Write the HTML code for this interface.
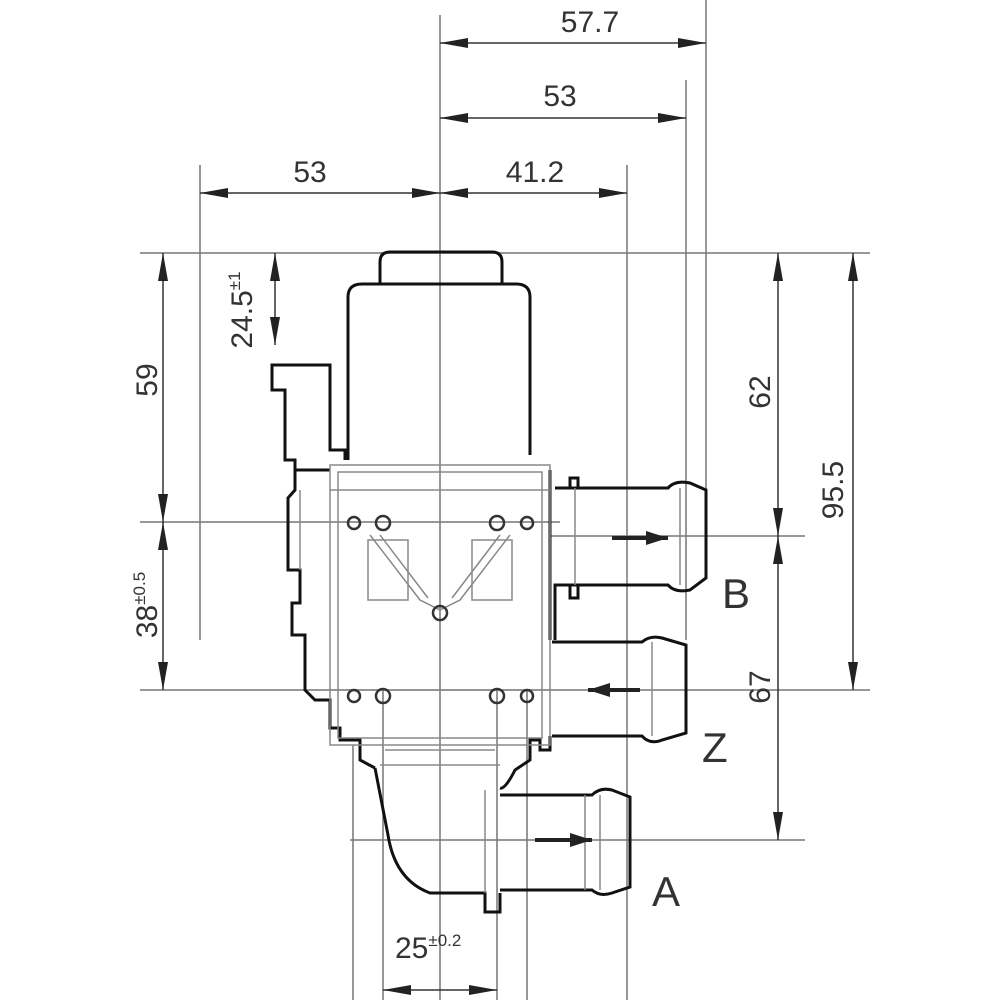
<!DOCTYPE html>
<html><head><style>body{margin:0;background:#fff}svg{display:block}text{font-family:"Liberation Sans",sans-serif;fill:#333}</style></head><body>
<svg width="1000" height="1000" viewBox="0 0 1000 1000" xmlns="http://www.w3.org/2000/svg">
<defs>
<marker id="a" viewBox="0 0 28 11" refX="28" refY="5.5" markerWidth="28" markerHeight="11" markerUnits="userSpaceOnUse" orient="auto-start-reverse"><path d="M0,0.5 L28,5.5 L0,10.5 Z" fill="#222"/></marker>
<marker id="f" viewBox="0 0 22 14" refX="22" refY="7" markerWidth="22" markerHeight="14" markerUnits="userSpaceOnUse" orient="auto"><path d="M0,0 L22,7 L0,14 Z" fill="#222"/></marker>
</defs>
<g stroke="#777" stroke-width="1.5" fill="none">
<line x1="440" y1="15" x2="440" y2="1000"/>
<line x1="706" y1="0" x2="706" y2="495"/>
<line x1="686" y1="80" x2="686" y2="640"/>
<line x1="627" y1="165" x2="627" y2="1000"/>
<line x1="200" y1="165" x2="200" y2="640"/>
<line x1="353" y1="745" x2="353" y2="1000"/>
<line x1="383" y1="690" x2="383" y2="1000"/>
<line x1="497" y1="690" x2="497" y2="1000"/>
<line x1="527" y1="690" x2="527" y2="1000"/>
<line x1="140" y1="253" x2="870" y2="253"/>
<line x1="140" y1="522" x2="560" y2="522"/>
<line x1="550" y1="536" x2="805" y2="536"/>
<line x1="140" y1="690" x2="870" y2="690"/>
<line x1="350" y1="840" x2="805" y2="840"/>
</g>
<g stroke="#333" stroke-width="1.5" fill="none" marker-start="url(#a)" marker-end="url(#a)">
<line x1="440" y1="43" x2="706" y2="43"/>
<line x1="440" y1="118" x2="686" y2="118"/>
<line x1="200" y1="193" x2="440" y2="193"/>
<line x1="440" y1="193" x2="627" y2="193"/>
<line x1="163" y1="253" x2="163" y2="522"/>
<line x1="163" y1="522" x2="163" y2="690"/>
<line x1="275" y1="253" x2="275" y2="345"/>
<line x1="778" y1="253" x2="778" y2="536"/>
<line x1="853" y1="253" x2="853" y2="690"/>
<line x1="778" y1="536" x2="778" y2="840"/>
<line x1="383" y1="990" x2="497" y2="990"/>
</g>
<g font-size="30">
<text x="590" y="32" text-anchor="middle">57.7</text>
<text x="560" y="106" text-anchor="middle">53</text>
<text x="310" y="182" text-anchor="middle">53</text>
<text x="535" y="182" text-anchor="middle">41.2</text>
<text transform="translate(157,380) rotate(-90)" text-anchor="middle">59</text>
<text transform="translate(157,605) rotate(-90)" text-anchor="middle">38<tspan font-size="17" dy="-12">±0.5</tspan></text>
<text transform="translate(252,310) rotate(-90)" text-anchor="middle">24.5<tspan font-size="17" dy="-12">±1</tspan></text>
<text transform="translate(770,392) rotate(-90)" text-anchor="middle">62</text>
<text transform="translate(843,490) rotate(-90)" text-anchor="middle">95.5</text>
<text transform="translate(770,687) rotate(-90)" text-anchor="middle">67</text>
<text x="395" y="958">25<tspan font-size="17" dy="-12">±0.2</tspan></text>
</g>
<g font-size="42" style="fill:#111">
<text x="722" y="608">B</text>
<text x="702" y="762">Z</text>
<text x="652" y="906">A</text>
</g>
<g stroke="#111" stroke-width="3" fill="none">
<path d="M380,285 V262 Q380,252 390,252 H492 Q502,252 502,262 V285"/>
<path d="M348,460 V297 Q348,284 362,284 H516 Q530,284 530,297 V455"/>
<path d="M345,460 V450 H330 V365 H272 V390 H285 V460 H295 V470 H330"/>
<path d="M295,470 V490 L288,498 V570 H300 V603 H292 V635 H305 V690 L315,700 H330 V728 H340 V740 H360 V760 L375,768"/>
<path d="M550,470 V640"/>
<path d="M550,736 V750 H540 V740 H530 V760 L515,770 Q505,790 500,788"/>
<path d="M375,768 L388,835 Q395,880 430,893 H485 V912 H500 V893"/>
<path d="M555,488 H668 Q675,480 690,483 L706,490 V578 L690,590 Q675,593 668,585 H555 V640"/>
<path d="M570,488 V478 H578 V488 M570,585 V598 H578 V585"/>
<path d="M552,642 H642 Q650,635 662,638 L686,645 V733 L662,740 Q650,745 642,736 H552"/>
<path d="M500,795 H592 Q600,787 612,790 L630,797 V887 L612,893 Q600,897 592,890 H500"/>
</g>
<g stroke="#888" stroke-width="1.5" fill="none">
<rect x="330" y="465" width="220" height="280"/>
<rect x="338" y="472" width="204" height="266"/>
<line x1="330" y1="490" x2="550" y2="490"/>
<line x1="330" y1="690" x2="550" y2="690"/>
<path d="M370,535 L420,600 L440,610 L460,600 L510,535"/>
<path d="M380,535 L428,598 M500,535 L452,598"/>
<rect x="368" y="540" width="40" height="60"/><rect x="472" y="540" width="40" height="60"/>
<line x1="680" y1="488" x2="680" y2="585"/><line x1="575" y1="488" x2="575" y2="585"/>
<line x1="652" y1="642" x2="652" y2="736"/>
<line x1="600" y1="795" x2="600" y2="890"/><line x1="585" y1="795" x2="585" y2="890"/>
<line x1="380" y1="765" x2="500" y2="765"/><line x1="385" y1="750" x2="495" y2="750"/>
<line x1="485" y1="790" x2="485" y2="893"/>
<line x1="300" y1="490" x2="300" y2="570"/>
</g>
<g stroke="#333" stroke-width="2.5" fill="none">
<circle cx="354" cy="523" r="6"/><circle cx="383" cy="523" r="7"/><circle cx="497" cy="523" r="7"/><circle cx="527" cy="523" r="6"/>
<circle cx="440" cy="613" r="7"/>
<circle cx="354" cy="696" r="6"/><circle cx="383" cy="696" r="7"/><circle cx="497" cy="696" r="7"/><circle cx="527" cy="696" r="6"/>
</g>
<g stroke="#222" stroke-width="4" marker-end="url(#f)">
<line x1="612" y1="538" x2="668" y2="538"/>
<line x1="640" y1="690" x2="588" y2="690"/>
<line x1="535" y1="840" x2="592" y2="840"/>
</g>
</svg>
</body></html>
